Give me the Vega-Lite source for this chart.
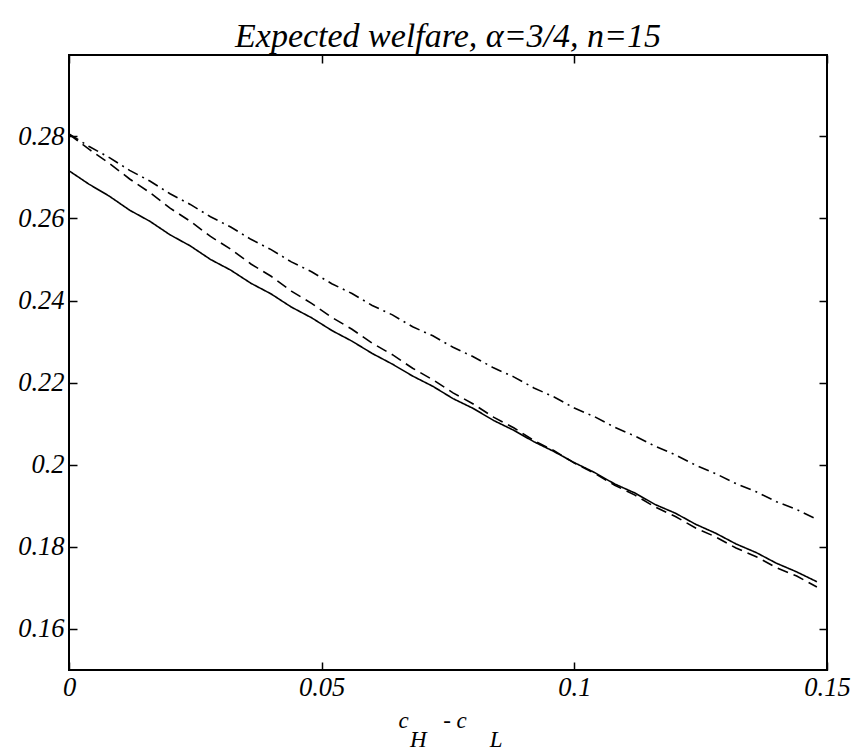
{
  "$schema": "https://vega.github.io/schema/vega-lite/v6.json",
  "width": 854,
  "height": 752,
  "autosize": {"type": "fit", "contains": "padding"},
  "padding": {"left": 17, "top": 20, "right": 3, "bottom": 0},
  "background": "white",
  "title": {
    "text": "Expected welfare, α=3/4, n=15",
    "font": "Liberation Serif",
    "fontStyle": "italic",
    "fontWeight": "normal",
    "fontSize": 34,
    "color": "black",
    "anchor": "middle",
    "offset": 0
  },
  "data": {
    "values": [
      {"gap": 0.000, "solid": 0.2716, "dashed": 0.2805, "dashdot": 0.2806},
      {"gap": 0.004, "solid": 0.2683, "dashed": 0.2768, "dashdot": 0.2775},
      {"gap": 0.008, "solid": 0.2654, "dashed": 0.2734, "dashdot": 0.2748},
      {"gap": 0.012, "solid": 0.2620, "dashed": 0.2696, "dashdot": 0.2717},
      {"gap": 0.016, "solid": 0.2593, "dashed": 0.2663, "dashdot": 0.2691},
      {"gap": 0.020, "solid": 0.2560, "dashed": 0.2625, "dashdot": 0.2660},
      {"gap": 0.024, "solid": 0.2533, "dashed": 0.2593, "dashdot": 0.2634},
      {"gap": 0.028, "solid": 0.2500, "dashed": 0.2556, "dashdot": 0.2604},
      {"gap": 0.032, "solid": 0.2474, "dashed": 0.2525, "dashdot": 0.2579},
      {"gap": 0.036, "solid": 0.2442, "dashed": 0.2489, "dashdot": 0.2549},
      {"gap": 0.040, "solid": 0.2416, "dashed": 0.2459, "dashdot": 0.2524},
      {"gap": 0.044, "solid": 0.2384, "dashed": 0.2423, "dashdot": 0.2494},
      {"gap": 0.048, "solid": 0.2358, "dashed": 0.2393, "dashdot": 0.2470},
      {"gap": 0.052, "solid": 0.2327, "dashed": 0.2359, "dashdot": 0.2441},
      {"gap": 0.056, "solid": 0.2301, "dashed": 0.2330, "dashdot": 0.2417},
      {"gap": 0.060, "solid": 0.2271, "dashed": 0.2296, "dashdot": 0.2388},
      {"gap": 0.064, "solid": 0.2245, "dashed": 0.2268, "dashdot": 0.2365},
      {"gap": 0.068, "solid": 0.2216, "dashed": 0.2235, "dashdot": 0.2336},
      {"gap": 0.072, "solid": 0.2191, "dashed": 0.2207, "dashdot": 0.2314},
      {"gap": 0.076, "solid": 0.2161, "dashed": 0.2175, "dashdot": 0.2286},
      {"gap": 0.080, "solid": 0.2137, "dashed": 0.2148, "dashdot": 0.2263},
      {"gap": 0.084, "solid": 0.2108, "dashed": 0.2116, "dashdot": 0.2236},
      {"gap": 0.088, "solid": 0.2084, "dashed": 0.2090, "dashdot": 0.2214},
      {"gap": 0.092, "solid": 0.2056, "dashed": 0.2059, "dashdot": 0.2187},
      {"gap": 0.096, "solid": 0.2032, "dashed": 0.2034, "dashdot": 0.2165},
      {"gap": 0.100, "solid": 0.2005, "dashed": 0.2004, "dashdot": 0.2138},
      {"gap": 0.104, "solid": 0.1981, "dashed": 0.1979, "dashdot": 0.2117},
      {"gap": 0.108, "solid": 0.1953, "dashed": 0.1950, "dashdot": 0.2091},
      {"gap": 0.112, "solid": 0.1931, "dashed": 0.1926, "dashdot": 0.2070},
      {"gap": 0.116, "solid": 0.1903, "dashed": 0.1897, "dashdot": 0.2045},
      {"gap": 0.120, "solid": 0.1882, "dashed": 0.1874, "dashdot": 0.2024},
      {"gap": 0.124, "solid": 0.1855, "dashed": 0.1846, "dashdot": 0.1999},
      {"gap": 0.128, "solid": 0.1833, "dashed": 0.1824, "dashdot": 0.1978},
      {"gap": 0.132, "solid": 0.1807, "dashed": 0.1797, "dashdot": 0.1954},
      {"gap": 0.136, "solid": 0.1786, "dashed": 0.1776, "dashdot": 0.1934},
      {"gap": 0.140, "solid": 0.1760, "dashed": 0.1749, "dashdot": 0.1910},
      {"gap": 0.144, "solid": 0.1739, "dashed": 0.1729, "dashdot": 0.1891},
      {"gap": 0.148, "solid": 0.1715, "dashed": 0.1702, "dashdot": 0.1867}
    ]
  },
  "transform": [
    {"fold": ["solid", "dashed", "dashdot"], "as": ["style", "welfare"]}
  ],
  "config": {
    "view": {"stroke": "black", "strokeWidth": 2},
    "axis": {
      "domain": false,
      "grid": false,
      "ticks": true,
      "tickColor": "black",
      "tickWidth": 1.5,
      "tickSize": -8,
      "minExtent": 0,
      "labelFont": "Liberation Serif",
      "labelFontStyle": "italic",
      "labelFontSize": 26.5,
      "labelColor": "black",
      "titleFont": "Liberation Serif",
      "titleFontStyle": "italic",
      "titleFontWeight": "normal",
      "titleFontSize": 23,
      "titleColor": "black"
    }
  },
  "resolve": {"axis": {"x": "independent", "y": "independent"}},
  "layer": [
    {
      "mark": {"type": "line", "color": "black", "strokeWidth": 1.6, "clip": true},
      "encoding": {
        "x": {
          "field": "gap",
          "type": "quantitative",
          "scale": {"domain": [0, 0.15], "nice": false, "zero": false},
          "axis": {
            "orient": "bottom",
            "values": [0, 0.05, 0.1, 0.15],
            "format": ".2~f",
            "labelPadding": 12,
            "labelFlush": false,
            "title": ["c\u00a0\u00a0\u00a0\u00a0\u00a0\u00a0-\u00a0c", "\u200b\u00a0\u00a0H\u00a0\u00a0\u00a0\u00a0\u00a0\u00a0\u00a0\u00a0\u00a0\u00a0\u00a0L"],
            "titleAlign": "left",
            "titleX": 329,
            "titleLineHeight": 19,
            "titlePadding": 9
          }
        },
        "y": {
          "field": "welfare",
          "type": "quantitative",
          "scale": {"domain": [0.15, 0.2998], "nice": false, "zero": false},
          "axis": {
            "orient": "left",
            "values": [0.16, 0.18, 0.2, 0.22, 0.24, 0.26, 0.28],
            "format": ".2~f",
            "labelPadding": 13,
            "minExtent": 0,
            "title": null
          }
        },
        "detail": {"field": "style"},
        "strokeDash": {
          "field": "style",
          "type": "nominal",
          "scale": {"domain": ["solid", "dashed", "dashdot"], "range": [[1, 0], [11, 6], [11, 5, 2, 5]]},
          "legend": null
        }
      }
    },
    {
      "mark": {"type": "line", "opacity": 0},
      "encoding": {
        "x": {
          "field": "gap",
          "type": "quantitative",
          "axis": {"orient": "top", "values": [0, 0.05, 0.1, 0.15], "labels": false, "title": null}
        },
        "y": {
          "field": "welfare",
          "type": "quantitative",
          "axis": {"orient": "right", "values": [0.16, 0.18, 0.2, 0.22, 0.24, 0.26, 0.28], "labels": false, "minExtent": 0, "title": null}
        },
        "detail": {"field": "style"}
      }
    }
  ]
}
